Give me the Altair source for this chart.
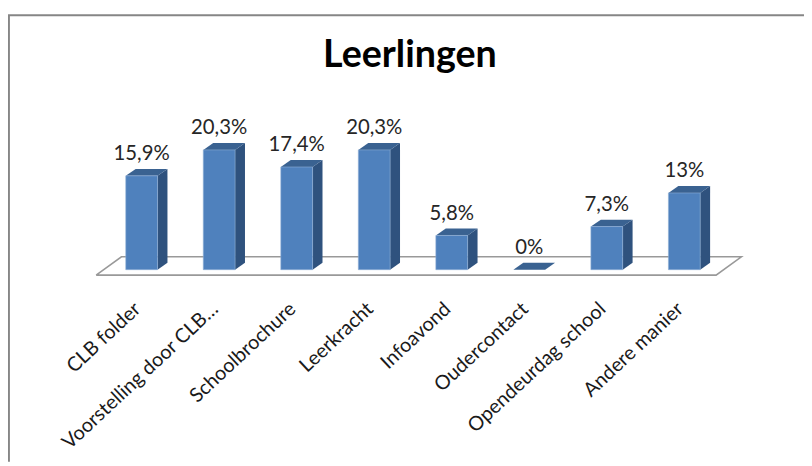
import altair as alt
import pandas as pd

categories = ["CLB folder", "Voorstelling door CLB…", "Schoolbrochure", "Leerkracht",
              "Infoavond", "Oudercontact", "Opendeurdag school", "Andere manier"]
values = [15.9, 20.3, 17.4, 20.3, 5.8, 0, 7.3, 13]
labels = ["15,9%", "20,3%", "17,4%", "20,3%", "5,8%", "0%", "7,3%", "13%"]

W, H = 796, 456
X_MIN, X_MAX = -1.724, 8.442
Y_MIN, Y_MAX = -32.55, 43.96
BW = 0.205   # half bar width, category units
DX = 0.128   # depth, category units
DY = 1.17    # depth, value units

xs = alt.Scale(domain=[X_MIN, X_MAX], nice=False, zero=False)
ys = alt.Scale(domain=[Y_MIN, Y_MAX], nice=False, zero=False)
x = alt.X("x:Q", scale=xs, axis=None)
y = alt.Y("y:Q", scale=ys, axis=None)
y2 = alt.Y2("y2:Q")

side, top = [], []
for i, v in enumerate(values):
    r = i + BW
    l = i - BW
    side += [dict(b=i, x=r, y=0, y2=v), dict(b=i, x=r + DX, y=DY, y2=v + DY)]
    top += [dict(b=i, x=l, y=v, y2=v), dict(b=i, x=l + DX, y=v, y2=v + DY),
            dict(b=i, x=r, y=v, y2=v + DY), dict(b=i, x=r + DX, y=v + DY, y2=v + DY)]

floor_l, floor_r, floor_d = -0.587, 7.41, 0.326
floor_y0, floor_y1 = -0.92, 2.18
floor_outline = [dict(x=floor_l, y=floor_y0), dict(x=floor_r, y=floor_y0),
                 dict(x=floor_r + floor_d, y=floor_y1),
                 dict(x=floor_l + floor_d, y=floor_y1), dict(x=floor_l, y=floor_y0)]
for o, p in enumerate(floor_outline):
    p["o"] = o

df = pd.DataFrame({"cat": categories, "v": values, "label": labels, "i": range(len(values))})
df["x"] = df["i"] - BW
df["x2"] = df["i"] + BW
df["lab_y"] = df["v"] + DY + 0.8
df["cat_x"] = df["i"] - 0.05
df["cat_y"] = -6.2

frame_top = pd.DataFrame([dict(x=X_MIN, x2=X_MAX + 0.102, y=Y_MAX - 0.85)])
frame_left = pd.DataFrame([dict(x=X_MIN + 0.012, y=Y_MAX - 0.85, y2=Y_MIN)])

floor_layer = alt.Chart(pd.DataFrame(floor_outline)).mark_line(color="#999999", strokeWidth=1.6).encode(
    x=x, y=y, order="o:Q")
side_layer = alt.Chart(pd.DataFrame(side)).mark_area(color="#2f527e", opacity=1).encode(
    x=x, y=y, y2=y2, detail="b:N")
top_layer = alt.Chart(pd.DataFrame(top)).mark_area(color="#3a6291", opacity=1).encode(
    x=x, y=y, y2=y2, detail="b:N")
front_layer = alt.Chart(df[df["v"] > 0]).mark_bar(color="#4f81bd", stroke="#8fb0d6", strokeWidth=0.6).encode(
    x=x, x2="x2:Q", y=alt.Y("v:Q", scale=ys, axis=None), y2=alt.datum(0))
value_text = alt.Chart(df).mark_text(font="Lato", fontSize=20.5, color="#262626", baseline="bottom", align="center", dx=0).encode(
    x=alt.X("i:Q", scale=xs, axis=None), y=alt.Y("lab_y:Q", scale=ys, axis=None), text="label:N")
cat_text = alt.Chart(df).mark_text(font="Lato", fontSize=20, color="#1a1a1a", angle=317, align="right", baseline="middle").encode(
    x=alt.X("cat_x:Q", scale=xs, axis=None), y=alt.Y("cat_y:Q", scale=ys, axis=None), text="cat:N")
f_top = alt.Chart(frame_top).mark_rule(color="#868686", strokeWidth=2).encode(
    x=x, x2="x2:Q", y=y)
f_left = alt.Chart(frame_left).mark_rule(color="#868686", strokeWidth=2).encode(
    x=x, y=y, y2=y2)

chart = alt.layer(f_top, f_left, floor_layer, side_layer, top_layer, front_layer, value_text, cat_text).properties(
    width=W, height=H, padding={"left": 0, "top": 0, "right": 8, "bottom": 0},
    autosize=alt.AutoSizeParams(type="none"),
    title=alt.TitleParams("Leerlingen", font="Lato", fontSize=38, fontWeight="bold", color="#000000",
                          anchor="middle", dx=8, dy=65, orient="top", offset=0),
).configure_view(stroke=None)

chart.save("out.html", embed_options={"renderer": "svg", "actions": False})
